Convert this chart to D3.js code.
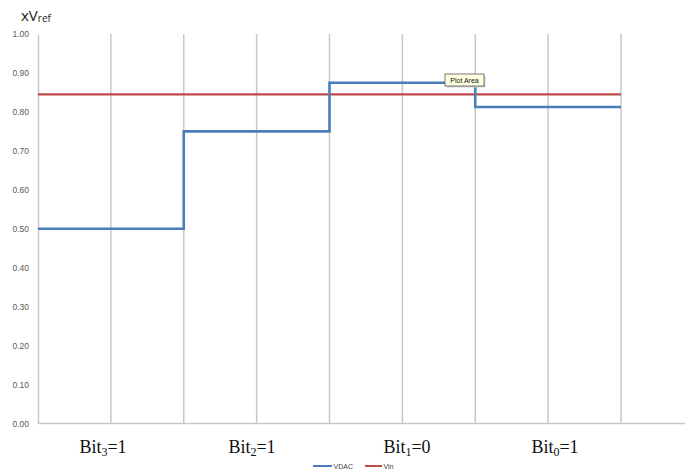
<!DOCTYPE html>
<html>
<head>
<meta charset="utf-8">
<script src="https://cdn.jsdelivr.net/npm/d3@7"></script>
<style>
  html, body { margin: 0; padding: 0; background: #fff; }
  svg { display: block; }
</style>
</head>
<body>
<svg id="chart" width="685" height="472"></svg>
<script>
// Successive-approximation steps: DAC output after each bit decision
const steps = [0, 2, 4, 6, 8];
const vdac = [0.5, 0.75, 0.875, 0.8125];
const vin = 0.845;
const yTicks = [0, 0.1, 0.2, 0.3, 0.4, 0.5, 0.6, 0.7, 0.8, 0.9, 1.0];
const gridX = [1, 2, 3, 4, 5, 6, 7, 8];
const bitLabels = [
  { name: "Bit", sub: "3", val: "=1", cx: 103 },
  { name: "Bit", sub: "2", val: "=1", cx: 252 },
  { name: "Bit", sub: "1", val: "=0", cx: 407 },
  { name: "Bit", sub: "0", val: "=1", cx: 555 }
];
const seriesNames = ["VDAC", "Vin"];
const colors = { VDAC: "#4a7ebb", Vin: "#be4b48" };

const svg = d3.select("#chart");
const plotLeft = 38, plotRight = 621, plotTop = 34, plotBottom = 423.5;
const x = d3.scaleLinear().domain([0, 8]).range([plotLeft, plotRight]);
const y = d3.scaleLinear().domain([0, 1]).range([plotBottom, plotTop]);

// vertical gridlines
svg.append("g").selectAll("line").data(gridX).join("line")
  .attr("x1", d => x(d)).attr("x2", d => x(d))
  .attr("y1", y(1)).attr("y2", plotBottom)
  .attr("stroke", "#c8c8c8").attr("stroke-width", 1.5);

// left axis line and tick labels
const yAxis = d3.axisLeft(y).tickValues(yTicks).tickFormat(d3.format(".2f")).tickSize(0).tickPadding(9);
const gy = svg.append("g").attr("transform", `translate(${plotLeft},0)`).call(yAxis);
gy.select(".domain").attr("stroke", "#c8c8c8").attr("stroke-width", 1.5);
gy.selectAll("text").attr("fill", "#595959")
  .style("font-family", "'Liberation Sans', Arial, sans-serif").style("font-size", "8.5px");

// bottom axis line (runs to the right edge)
svg.append("line").attr("x1", plotLeft).attr("x2", 685)
  .attr("y1", plotBottom).attr("y2", plotBottom)
  .attr("stroke", "#c8c8c8").attr("stroke-width", 1.5);

// Vin reference
svg.append("line")
  .attr("x1", x(0)).attr("x2", x(8)).attr("y1", y(vin)).attr("y2", y(vin))
  .attr("stroke", colors.Vin).attr("stroke-width", 2.2);

// VDAC staircase
const pts = vdac.map((v, i) => [steps[i], v]).concat([[steps[steps.length - 1], vdac[vdac.length - 1]]]);
const line = d3.line().x(d => x(d[0])).y(d => y(d[1])).curve(d3.curveStepAfter);
svg.append("path").datum(pts)
  .attr("d", line).attr("fill", "none")
  .attr("stroke", colors.VDAC).attr("stroke-width", 2.6);

// y axis title
const title = svg.append("text").attr("x", 21).attr("y", 21)
  .attr("fill", "#222").style("font-family", "'Open Sans', 'Liberation Sans', sans-serif");
title.append("tspan").text("xV").style("font-size", "15px");
title.append("tspan").text("ref").style("font-size", "10px").attr("dy", 1);

// bit decision labels
bitLabels.forEach(b => {
  const t = svg.append("text").attr("x", b.cx).attr("y", 453).attr("text-anchor", "middle")
    .attr("fill", "#111").style("font-family", "'Liberation Serif', 'Times New Roman', serif").style("font-size", "18px");
  t.append("tspan").text(b.name);
  t.append("tspan").text(b.sub).style("font-size", "12px").attr("dy", 3);
  t.append("tspan").text(b.val).attr("dy", -3);
});

// legend
const legendItems = [
  { name: seriesNames[0], x1: 313, x2: 332 },
  { name: seriesNames[1], x1: 365, x2: 382 }
];
const lg = svg.append("g");
legendItems.forEach(it => {
  lg.append("line").attr("x1", it.x1).attr("x2", it.x2).attr("y1", 466).attr("y2", 466)
    .attr("stroke", colors[it.name]).attr("stroke-width", 2);
  lg.append("text").attr("x", it.x2 + 1.5).attr("y", 468.5).text(it.name)
    .attr("fill", "#444").style("font-family", "'Liberation Sans', Arial, sans-serif").style("font-size", "7px");
});

// hover tooltip over the plot area
const tip = svg.append("g").attr("transform", "translate(445,74)");
tip.append("rect").attr("x", 1.5).attr("y", 1.5).attr("width", 39).attr("height", 12).attr("fill", "#cfcfcf");
tip.append("rect").attr("width", 39).attr("height", 12).attr("fill", "#ffffe1")
  .attr("stroke", "#555").attr("stroke-width", 0.8);
tip.append("text").attr("x", 19.5).attr("y", 8.8).attr("text-anchor", "middle").text("Plot Area")
  .attr("fill", "#111").style("font-family", "'Liberation Sans', Arial, sans-serif").style("font-size", "7px");
</script>
</body>
</html>
